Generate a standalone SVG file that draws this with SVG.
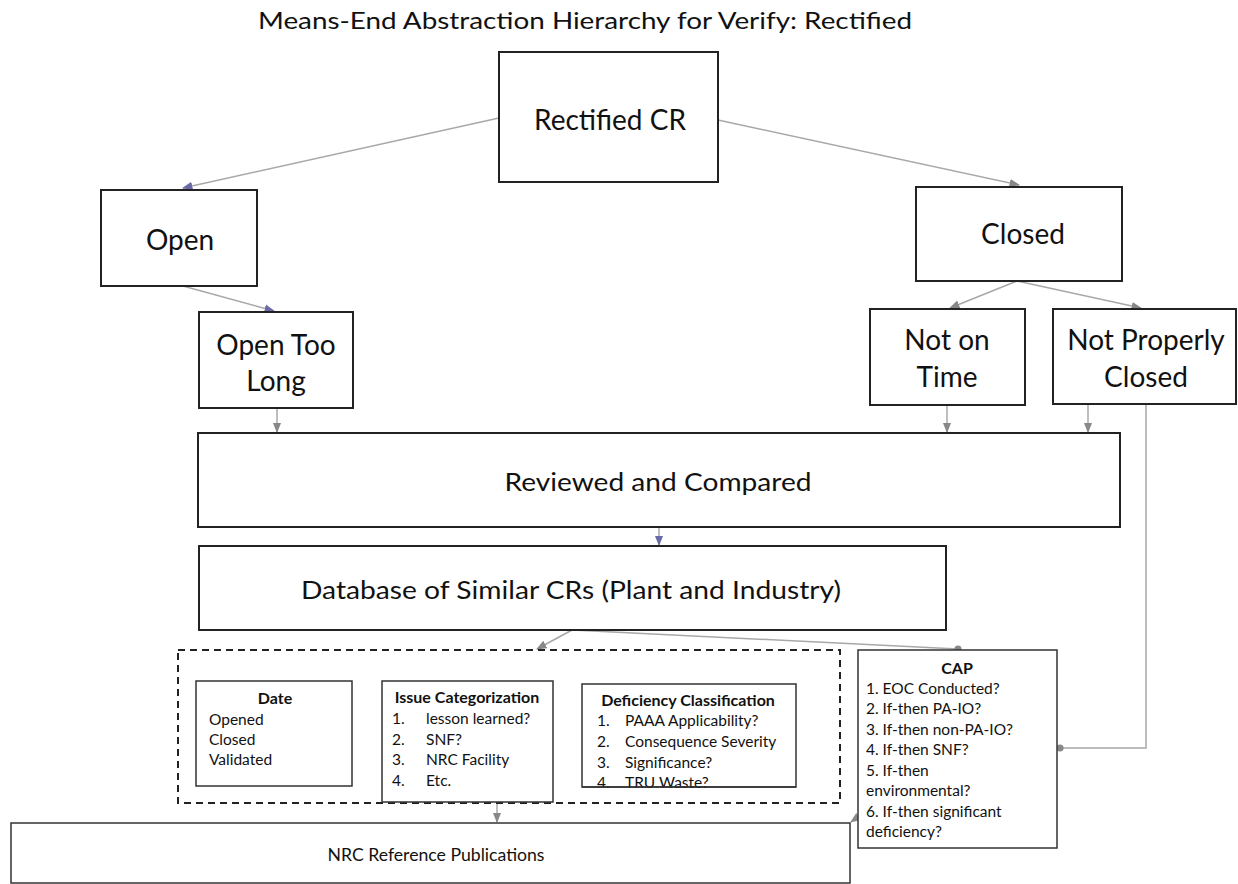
<svg xmlns="http://www.w3.org/2000/svg" width="1238" height="884" viewBox="0 0 1238 884">
  <style>
    .box { fill: #ffffff; stroke: #222222; stroke-width: 2; }
    .thin { fill: #ffffff; stroke: #333333; stroke-width: 1.5; }
    .dash { fill: none; stroke: #222222; stroke-width: 2; stroke-dasharray: 7 5; }
    .lbl { font-family: Lato, "Liberation Sans", sans-serif; font-size: 28px; fill: #111111; text-anchor: middle; }
    .cond { font-family: Lato, "Liberation Sans", sans-serif; font-size: 25px; fill: #111111; text-anchor: middle; }
    .sm { font-family: Lato, "Liberation Sans", sans-serif; font-size: 15.5px; fill: #111111; }
    .smb { font-family: Lato, "Liberation Sans", sans-serif; font-size: 16px; font-weight: bold; fill: #111111; text-anchor: middle; }
    .title { font-family: Lato, "Liberation Sans", sans-serif; font-size: 24px; fill: #111111; text-anchor: middle; }
    .conn { fill: none; stroke: #a8a8a8; stroke-width: 1.5; }
  </style>
  <defs>
    <marker id="arrGray" viewBox="0 0 10 10" refX="9" refY="5" markerWidth="7" markerHeight="7" orient="auto">
      <path d="M0,1 L10,5 L0,9 z" fill="#888888"/>
    </marker>
    <marker id="arrBlue" viewBox="0 0 10 10" refX="9" refY="5" markerWidth="7" markerHeight="7" orient="auto">
      <path d="M0,1 L10,5 L0,9 z" fill="#6a6aa8"/>
    </marker>
    <marker id="dot" viewBox="0 0 10 10" refX="5" refY="5" markerWidth="6" markerHeight="6">
      <circle cx="5" cy="5" r="4" fill="#888888"/>
    </marker>
  </defs>

  <rect width="1238" height="884" fill="#ffffff"/>

  <text class="title" x="585" y="29" textLength="654" lengthAdjust="spacingAndGlyphs">Means-End Abstraction Hierarchy for Verify: Rectified</text>

  <!-- connectors -->
  <g id="connectors">
    <path class="conn" d="M499,118 L183,188" marker-end="url(#arrBlue)"/>
    <path class="conn" d="M718,120 L1019,185" marker-end="url(#arrGray)"/>
    <path class="conn" d="M183,286 L274,311" marker-end="url(#arrBlue)"/>
    <path class="conn" d="M1017,281 L950,308" marker-end="url(#arrGray)"/>
    <path class="conn" d="M1017,281 L1141,308" marker-end="url(#arrGray)"/>
    <path class="conn" d="M277,408 L277,432" marker-end="url(#arrGray)"/>
    <path class="conn" d="M947,405 L947,432" marker-end="url(#arrGray)"/>
    <path class="conn" d="M1088,404 L1088,432" marker-end="url(#arrGray)"/>
    <path class="conn" d="M659,527 L659,545" marker-end="url(#arrBlue)"/>
    <path class="conn" d="M572,630 L537,649" marker-end="url(#arrGray)"/>
    <path class="conn" d="M572,630 L958,649" marker-end="url(#dot)"/>
    <path class="conn" d="M1146,404 L1146,748 L1060,748" marker-end="url(#dot)"/>
    <path class="conn" d="M497,803 L497,822" marker-end="url(#arrGray)"/>
    <path class="conn" d="M858,817 L851,822" marker-end="url(#arrGray)"/>
  </g>

  <g id="rectified-cr">
    <rect class="box" x="499" y="52" width="219" height="130"/>
    <text class="lbl" x="610" y="130">Rectified CR</text>
  </g>

  <g id="open">
    <rect class="box" x="101" y="190" width="156" height="96"/>
    <text class="lbl" x="180" y="250">Open</text>
  </g>

  <g id="open-too-long">
    <rect class="box" x="199" y="312" width="154" height="96"/>
    <text class="lbl" x="276" y="355">Open Too</text>
    <text class="lbl" x="276" y="391">Long</text>
  </g>

  <g id="closed">
    <rect class="box" x="916" y="187" width="206" height="94"/>
    <text class="lbl" x="1023" y="244">Closed</text>
  </g>

  <g id="not-on-time">
    <rect class="box" x="870" y="309" width="155" height="96"/>
    <text class="lbl" x="947" y="350">Not on</text>
    <text class="lbl" x="947" y="387">Time</text>
  </g>

  <g id="not-properly-closed">
    <rect class="box" x="1053" y="309" width="183" height="95"/>
    <text class="lbl" x="1146" y="350">Not Properly</text>
    <text class="lbl" x="1146" y="387">Closed</text>
  </g>

  <g id="reviewed-and-compared">
    <rect class="box" x="198" y="433" width="922" height="94"/>
    <text class="cond" x="658" y="491" textLength="307" lengthAdjust="spacingAndGlyphs">Reviewed and Compared</text>
  </g>

  <g id="database">
    <rect class="box" x="199" y="546" width="747" height="84"/>
    <text class="cond" x="571" y="599" textLength="540" lengthAdjust="spacingAndGlyphs">Database of Similar CRs (Plant and Industry)</text>
  </g>

  <g id="criteria-group">
    <rect class="dash" x="178" y="650" width="662" height="153"/>
  </g>

  <g id="date">
    <rect class="thin" x="196" y="681" width="156" height="105"/>
    <text class="smb" x="275" y="704">Date</text>
    <text class="sm" x="209" y="725">Opened</text>
    <text class="sm" x="209" y="745">Closed</text>
    <text class="sm" x="209" y="765">Validated</text>
  </g>

  <g id="issue-categorization">
    <rect class="thin" x="382" y="681" width="171" height="121"/>
    <text class="smb" x="467" y="703">Issue Categorization</text>
    <text class="sm" x="392" y="724">1.</text><text class="sm" x="426" y="724">lesson learned?</text>
    <text class="sm" x="392" y="745">2.</text><text class="sm" x="426" y="745">SNF?</text>
    <text class="sm" x="392" y="765">3.</text><text class="sm" x="426" y="765">NRC Facility</text>
    <text class="sm" x="392" y="786">4.</text><text class="sm" x="426" y="786">Etc.</text>
  </g>

  <g id="deficiency-classification">
    <rect class="thin" x="582" y="684" width="214" height="103"/>
    <text class="smb" x="688" y="706">Deficiency Classification</text>
    <text class="sm" x="597" y="726">1.</text><text class="sm" x="625" y="726">PAAA Applicability?</text>
    <text class="sm" x="597" y="747">2.</text><text class="sm" x="625" y="747">Consequence Severity</text>
    <text class="sm" x="597" y="768">3.</text><text class="sm" x="625" y="768">Significance?</text>
    <text class="sm" x="597" y="788">4.</text><text class="sm" x="625" y="788">TRU Waste?</text>
    <line x1="582" y1="787" x2="796" y2="787" stroke="#333333" stroke-width="1.5"/>
  </g>

  <g id="cap">
    <rect class="thin" x="858" y="650" width="199" height="198"/>
    <text class="smb" x="957" y="674">CAP</text>
    <text class="sm" x="866" y="694">1. EOC Conducted?</text>
    <text class="sm" x="866" y="714">2. If-then PA-IO?</text>
    <text class="sm" x="866" y="735">3. If-then non-PA-IO?</text>
    <text class="sm" x="866" y="755">4. If-then SNF?</text>
    <text class="sm" x="866" y="776">5. If-then</text>
    <text class="sm" x="866" y="796">environmental?</text>
    <text class="sm" x="866" y="817">6. If-then significant</text>
    <text class="sm" x="866" y="837">deficiency?</text>
  </g>

  <g id="nrc-reference-publications">
    <rect class="thin" x="11" y="823" width="839" height="60"/>
    <text class="cond" x="436" y="861" style="font-size:17px" textLength="217" lengthAdjust="spacingAndGlyphs">NRC Reference Publications</text>
  </g>
</svg>
